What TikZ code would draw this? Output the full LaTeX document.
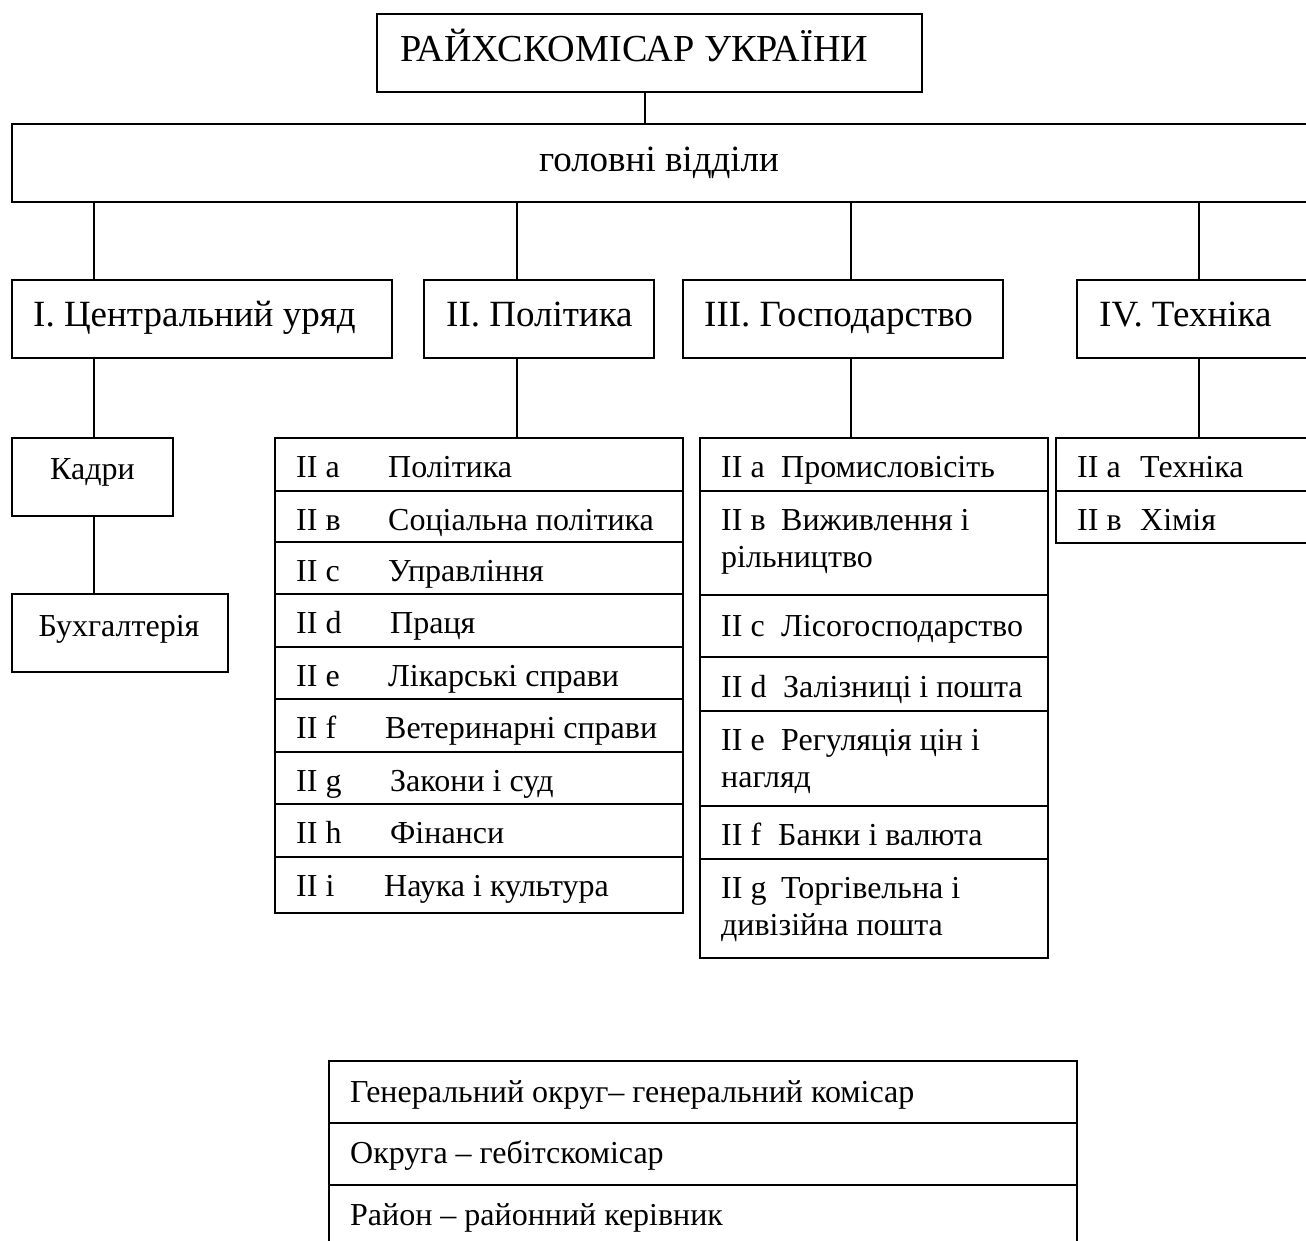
\documentclass[tikz,border=0pt]{standalone}
\usepackage{fontspec}
\setmainfont{Liberation Serif}
\newcommand\mkbox[6][]{\node[boxstyle,anchor=north west,minimum width={#5-#3},minimum height={#6-#4},#1] (#2) at (#3,#4) {};}
\begin{document}
\begin{tikzpicture}[x=1pt,y=-1pt,
  boxstyle/.style={draw,rectangle,line width=1.6pt,inner sep=0pt,outer sep=0pt},
  conn/.style={line width=1.2pt},
  sep/.style={line width=1.6pt},
  big/.style={font=\fontsize{37}{42}\selectfont,inner sep=0pt},
  title/.style={font=\fontsize{38.2}{43}\selectfont,inner sep=0pt},
  small/.style={font=\fontsize{32}{37}\selectfont,inner sep=0pt}]
\useasboundingbox (0,0) rectangle (1306,1240);
\clip (0,0) rectangle (1306,1240);

% boxes
\mkbox{top}{377}{14}{922}{92}
\mkbox{main}{12}{124}{1330}{202}
\mkbox{lI}{12}{280}{392}{358}
\mkbox{lII}{424}{280}{654}{358}
\mkbox{lIII}{683}{280}{1003}{358}
\mkbox{lIV}{1077}{280}{1330}{358}
\mkbox{kadry}{12}{438}{173}{516}
\mkbox{buh}{12}{594}{228}{672}
\mkbox{listII}{275}{438}{683}{913}
\mkbox{listIII}{700}{438}{1048}{958}
\mkbox{listIV}{1056}{438}{1330}{543}
\mkbox{bottom}{329}{1061}{1077}{1250}

% column positions
\coordinate (c0) at (645,0);
\coordinate (c1) at (94,0);
\coordinate (c2) at (517,0);
\coordinate (c3) at (851,0);
\coordinate (c4) at (1199,0);

% connectors
\draw[conn] (top.south -| c0) -- (main.north -| c0);
\draw[conn] (main.south -| c1) -- (lI.north -| c1);
\draw[conn] (main.south -| c2) -- (lII.north -| c2);
\draw[conn] (main.south -| c3) -- (lIII.north -| c3);
\draw[conn] (main.south -| c4) -- (lIV.north -| c4);
\draw[conn] (lI.south -| c1) -- (kadry.north -| c1);
\draw[conn] (lII.south -| c2) -- (listII.north -| c2);
\draw[conn] (lIII.south -| c3) -- (listIII.north -| c3);
\draw[conn] (lIV.south -| c4) -- (listIV.north -| c4);
\draw[conn] (kadry.south -| c1) -- (buh.north -| c1);

% row separators
\foreach \yy in {491,542,594,647,699,752,804,857}
  \draw[sep] (275,\yy) -- (683,\yy);
\foreach \yy in {491,595,657,711,806,859}
  \draw[sep] (700,\yy) -- (1048,\yy);
\draw[sep] (1056,491) -- (1330,491);
\draw[sep] (329,1123) -- (1077,1123);
\draw[sep] (329,1185) -- (1077,1185);

% big texts
\node[title,anchor=base west] (ttop) at (400,61) {РАЙХСКОМІСАР УКРАЇНИ};
\node[big,anchor=base] (tmain) at (659,171) {головні відділи};
\node[big,anchor=base west] (tI) at (33,326) {I. Центральний уряд};
\node[big,anchor=base west] (tII) at (446,326) {II. Політика};
\node[big,anchor=base west] (tIII) at (704,326) {III. Господарство};
\node[big,anchor=base west] (tIV) at (1099,326) {IV. Техніка};

% left column
\node[small,anchor=base] (tk) at (92.5,479) {Кадри};
\node[small,anchor=base] (tb) at (119,636) {Бухгалтерія};

% list II
\node[small,anchor=base west] (a1) at (296,477) {II a};
\node[small,anchor=base west] (b1) at (388,477) {Політика};
\node[small,anchor=base west] (a2) at (296,530) {II в};
\node[small,anchor=base west] (b2) at (388,530) {Соціальна політика};
\node[small,anchor=base west] (a3) at (296,581) {II c};
\node[small,anchor=base west] (b3) at (388,581) {Управління};
\node[small,anchor=base west] (a4) at (296,633) {II d};
\node[small,anchor=base west] (b4) at (390,633) {Праця};
\node[small,anchor=base west] (a5) at (296,686) {II e};
\node[small,anchor=base west] (b5) at (388,686) {Лікарські справи};
\node[small,anchor=base west] (a6) at (296,738) {II f};
\node[small,anchor=base west] (b6) at (385,738) {Ветеринарні справи};
\node[small,anchor=base west] (a7) at (296,791) {II g};
\node[small,anchor=base west] (b7) at (390,791) {Закони і суд};
\node[small,anchor=base west] (a8) at (296,843) {II h};
\node[small,anchor=base west] (b8) at (390,843) {Фінанси};
\node[small,anchor=base west] (a9) at (296,896) {II i};
\node[small,anchor=base west] (b9) at (384,896) {Наука і культура};

% list III
\node[small,anchor=base west] (d1) at (721,477) {II a};
\node[small,anchor=base west] (e1) at (781,477) {Промисловісіть};
\node[small,anchor=base west] (d2) at (721,530) {II в};
\node[small,anchor=base west] (e2) at (781,530) {Виживлення і};
\node[small,anchor=base west] (f2) at (721,567) {рільництво};
\node[small,anchor=base west] (d3) at (721,636) {II c};
\node[small,anchor=base west] (e3) at (781,636) {Лісогосподарство};
\node[small,anchor=base west] (d4) at (721,697) {II d};
\node[small,anchor=base west] (e4) at (783,697) {Залізниці і пошта};
\node[small,anchor=base west] (d5) at (721,750) {II e};
\node[small,anchor=base west] (e5) at (781,750) {Регуляція цін і};
\node[small,anchor=base west] (f5) at (721,787) {нагляд};
\node[small,anchor=base west] (d6) at (721,845) {II f};
\node[small,anchor=base west] (e6) at (778,845) {Банки і валюта};
\node[small,anchor=base west] (d7) at (721,898) {II g};
\node[small,anchor=base west] (e7) at (781,898) {Торгівельна і};
\node[small,anchor=base west] (f7) at (721,935) {дивізійна пошта};

% list IV
\node[small,anchor=base west] (g1) at (1077,477) {II a};
\node[small,anchor=base west] (h1) at (1140,477) {Техніка};
\node[small,anchor=base west] (g2) at (1077,530) {II в};
\node[small,anchor=base west] (h2) at (1140,530) {Хімія};

% bottom table
\node[small,anchor=base west] (r1) at (350,1102) {Генеральний округ– генеральний комісар};
\node[small,anchor=base west] (r2) at (350,1163) {Округа – гебітскомісар};
\node[small,anchor=base west] (r3) at (350,1225) {Район – районний керівник};
\end{tikzpicture}
\end{document}
